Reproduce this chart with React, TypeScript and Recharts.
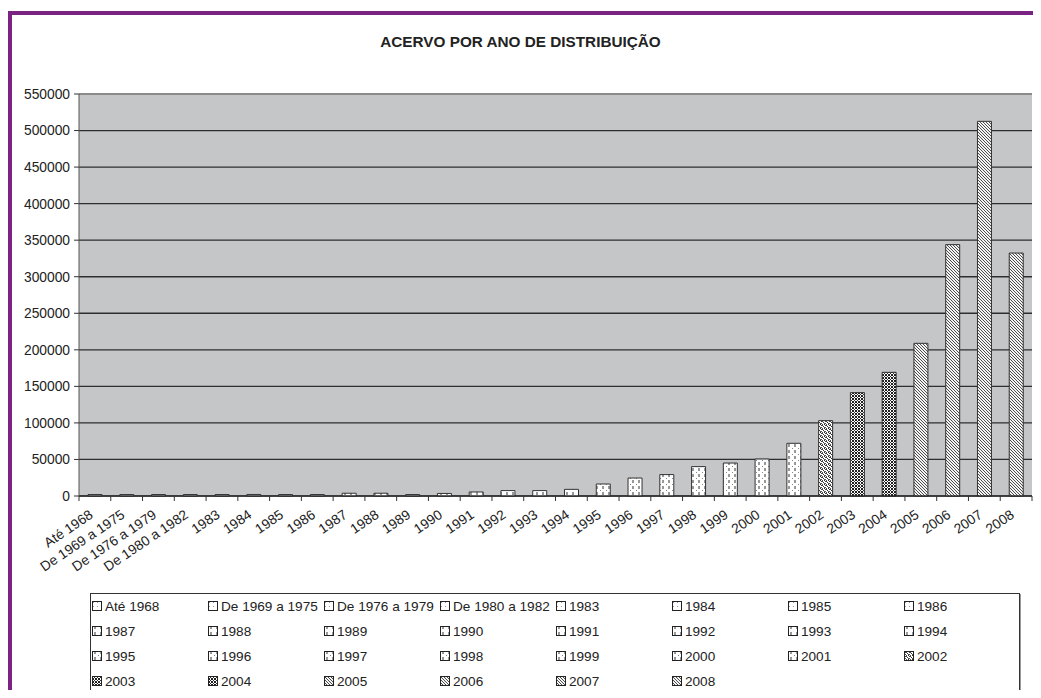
import React from 'react';
import { BarChart, Bar, Cell, XAxis, YAxis, CartesianGrid, Legend, ReferenceLine } from 'recharts';

const CATEGORIES = [
  'Até 1968', 'De 1969 a 1975', 'De 1976 a 1979', 'De 1980 a 1982', '1983', '1984', '1985', '1986',
  '1987', '1988', '1989', '1990', '1991', '1992', '1993', '1994', '1995', '1996', '1997', '1998',
  '1999', '2000', '2001', '2002', '2003', '2004', '2005', '2006', '2007', '2008',
];

const VALUES = [
  2000, 2000, 2000, 2000, 2000, 2100, 2000, 2000,
  3800, 3800, 2000, 3500, 5500, 7400, 7400, 9100, 16400, 24600, 29300, 40200,
  45100, 50600, 72100, 103100, 141400, 169200, 208900, 343900, 512600, 332400,
];

const Y_TICKS = [0, 50000, 100000, 150000, 200000, 250000, 300000, 350000, 400000, 450000, 500000, 550000];

const data = CATEGORIES.map((name, i) => ({ name, value: VALUES[i] }));

// fill pattern per bar, roughly like the Excel hatch styles
const patternFor = (i: number) => {
  if (i < 8) return 'pSparse';
  if (i < 16) return 'pDash';
  if (i < 23) return 'pDash2';
  if (i === 23) return 'pGrain';
  if (i < 26) return 'pDots';
  return 'pHatch';
};

const FONT = '"Liberation Sans", Arial, sans-serif';
const PLOT_W = 953;
const STEP = PLOT_W / CATEGORIES.length;

function XTick(props: any) {
  const { x, y, payload, index } = props;
  const tx = x - 1;
  const ty = y + 16;
  return (
    <g>
      <line x1={x - STEP / 2} x2={x - STEP / 2} y1={y - 5} y2={y} stroke="#333" />
      {index === CATEGORIES.length - 1 && (
        <line x1={x + STEP / 2} x2={x + STEP / 2} y1={y - 5} y2={y} stroke="#333" />
      )}
      <text
        x={tx}
        y={ty}
        textAnchor="end"
        fontSize={13.8}
        fontFamily={FONT}
        fill="#222"
        transform={`rotate(-34, ${tx}, ${ty})`}
      >
        {payload.value}
      </text>
    </g>
  );
}

function LegendBox() {
  return (
    <div
      style={{
        boxSizing: 'border-box',
        width: 930,
        height: 102,
        border: '1px solid #333',
        boxShadow: '1px 1px 0 #999',
        background: '#fff',
        display: 'grid',
        gridTemplateColumns: 'repeat(8, 1fr)',
        gridAutoRows: 25,
        fontFamily: FONT,
        fontSize: 13.6,
        color: '#222',
        textAlign: 'left',
      }}
    >
      {CATEGORIES.map((c, i) => (
        <div key={c} style={{ display: 'flex', alignItems: 'center', paddingLeft: 1, whiteSpace: 'nowrap' }}>
          <svg width={11} height={11} style={{ marginRight: 2, flex: 'none' }}>
            <rect x={0.5} y={0.5} width={9} height={9} fill={`url(#${patternFor(i)})`} stroke="#222" />
          </svg>
          {c}
        </div>
      ))}
    </div>
  );
}

export default function App() {
  return (
    <div style={{ position: 'relative', margin: -8, width: 1041, height: 698, background: '#fff', overflow: 'hidden' }}>
      <div
        style={{
          position: 'absolute',
          left: 7,
          top: 11,
          right: 0,
          bottom: 0,
          borderTop: '4px solid #7B2382',
          borderLeft: '5px solid #7B2382',
        }}
      />
      <div
        style={{
          position: 'absolute',
          left: 0,
          width: 1041,
          top: 33,
          textAlign: 'center',
          fontFamily: FONT,
          fontWeight: 'bold',
          fontSize: 15.3,
          color: '#222',
        }}
      >
        ACERVO POR ANO DE DISTRIBUIÇÃO
      </div>
      <div style={{ position: 'absolute', left: 0, top: 0 }}>
        <BarChart width={1041} height={698} data={data} margin={{ top: 94, right: 9, left: 0, bottom: 142 }}>
          <defs>
            <pattern id="pSparse" width="4" height="4" patternUnits="userSpaceOnUse">
              <rect width="4" height="4" fill="#fff" />
              <rect x="1" y="1" width="1" height="1" fill="#999" />
            </pattern>
            <pattern id="pDash" width="6" height="6" patternUnits="userSpaceOnUse">
              <rect width="6" height="6" fill="#fff" />
              <line x1="3" y1="0" x2="3" y2="3" stroke="#333" />
            </pattern>
            <pattern id="pDash2" width="6" height="6" patternUnits="userSpaceOnUse">
              <rect width="6" height="6" fill="#fff" />
              <line x1="3" y1="0" x2="3" y2="3" stroke="#333" />
              <rect x="0" y="4" width="1" height="1" fill="#888" />
            </pattern>
            <pattern id="pGrain" width="4" height="4" patternUnits="userSpaceOnUse">
              <rect width="4" height="4" fill="#fff" />
              <rect x="0" y="0" width="1" height="1" fill="#333" />
              <rect x="2" y="0" width="1" height="1" fill="#555" />
              <rect x="1" y="1" width="2" height="1" fill="#444" />
              <rect x="3" y="2" width="1" height="1" fill="#333" />
              <rect x="0" y="3" width="2" height="1" fill="#555" />
            </pattern>
            <pattern id="pDots" width="3" height="3" patternUnits="userSpaceOnUse">
              <rect width="3" height="3" fill="#fff" />
              <rect x="0" y="0" width="2" height="1" fill="#1e1e1e" />
              <rect x="2" y="1" width="1" height="1" fill="#333" />
              <rect x="0" y="2" width="2" height="1" fill="#222" />
            </pattern>
            <pattern id="pHatch" width="3" height="3" patternUnits="userSpaceOnUse">
              <rect width="3" height="3" fill="#f4f4f4" />
              <path d="M0,0 L3,3 M-1,2 L1,4 M2,-1 L4,1" stroke="#3a3a3a" strokeWidth="0.9" />
            </pattern>
          </defs>
          <CartesianGrid vertical={false} fill="#C5C6C8" stroke="#2e2e2e" strokeWidth={1.3} />
          <XAxis
            dataKey="name"
            interval={0}
            height={60}
            tickSize={5}
            tickMargin={0}
            tickLine={false}
            axisLine={{ stroke: '#222' }}
            tick={<XTick />}
          />
          <YAxis
            width={79}
            domain={[0, 550000]}
            ticks={Y_TICKS}
            interval={0}
            tickSize={5}
            tickMargin={4}
            tickLine={{ stroke: '#333' }}
            axisLine={{ stroke: '#555' }}
            tick={{ fontSize: 13.8, fontFamily: FONT, fill: '#222' }}
          />
          <YAxis yAxisId="r" orientation="right" width={0} tick={false} tickLine={false} axisLine={{ stroke: '#9a9a9a', strokeWidth: 2 }} />
          <ReferenceLine y={550000} stroke="#8a8a8a" strokeWidth={2} />
          <Legend
            verticalAlign="middle"
            align="center"
            layout="horizontal"
            wrapperStyle={{ left: 90, top: 593, width: 930, height: 102 }}
            content={() => <LegendBox />}
          />
          <Bar dataKey="value" barSize={14} stroke="#333" strokeWidth={1} isAnimationActive={false}>
            {data.map((d, i) => (
              <Cell key={d.name} fill={`url(#${patternFor(i)})`} />
            ))}
          </Bar>
        </BarChart>
      </div>
    </div>
  );
}
